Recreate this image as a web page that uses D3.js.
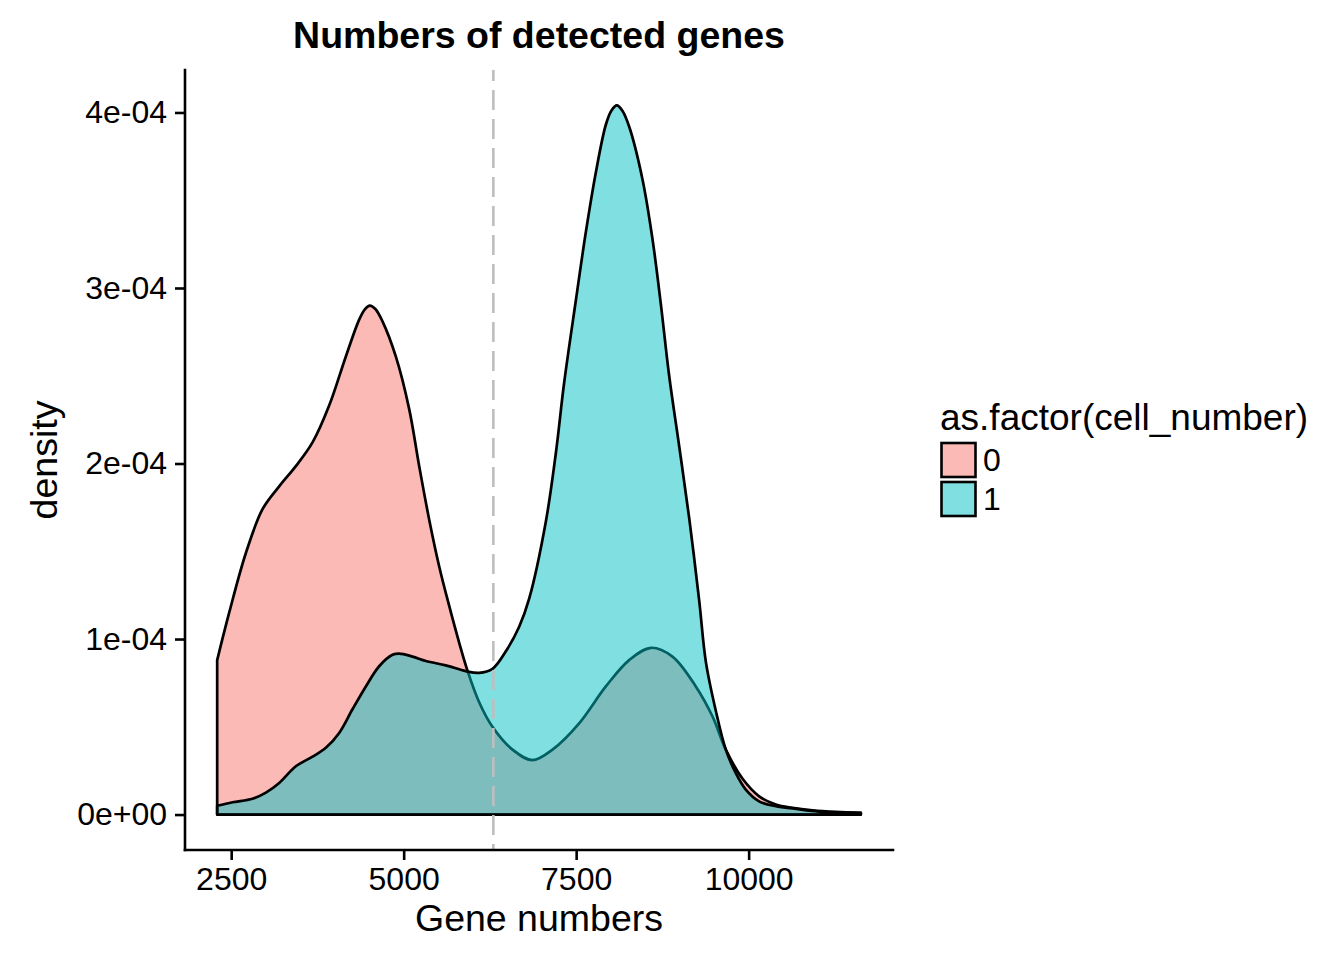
<!DOCTYPE html>
<meta charset="utf-8">
<title>Numbers of detected genes</title>
<style>
  body { margin: 0; background: #fff; }
  text { font-family: "Liberation Sans", Arial, Helvetica, sans-serif; fill: #000; }
</style>
<body>
<div id="chart"></div>
<script src="https://d3js.org/d3.v7.min.js"></script>
<script>

////* data *////
const groups = ["0", "1"];
const groupColors = ["#F8766D", "#00BFC4"];

// cell_number == 0
const genes0 = [2297, 2471, 2713, 2954, 3196, 3437, 3679, 3920, 4162, 4355, 4440, 4510, 4590, 4693, 4886, 5080,
                5225, 5370, 5514, 5659, 5804, 5925, 6094, 6287, 6577, 6867, 7157, 7543, 7930, 8268,
                8582, 8896, 9234, 9475, 9669, 9910, 10152, 10394, 10635, 10925, 11264, 11626];
const dens0 = [0.88e-4, 1.15e-4, 1.49e-4, 1.74e-4, 1.87e-4, 1.985e-4, 2.12e-4, 2.33e-4, 2.61e-4, 2.82e-4,
               2.88e-4, 2.90e-4, 2.88e-4, 2.81e-4, 2.61e-4, 2.31e-4, 1.985e-4, 1.68e-4, 1.415e-4, 1.19e-4, 0.98e-4, 0.82e-4,
               0.64e-4, 0.50e-4, 0.37e-4, 0.31e-4, 0.37e-4, 0.52e-4, 0.73e-4, 0.88e-4, 0.95e-4, 0.90e-4,
               0.73e-4, 0.56e-4, 0.37e-4, 0.205e-4, 0.104e-4, 0.057e-4, 0.038e-4, 0.024e-4, 0.015e-4, 0.010e-4];

// cell_number == 1
const genes1 = [2297, 2519, 2809, 3003, 3196, 3437, 3679, 3872, 4065, 4258, 4452, 4645, 4838, 4935,
                5128, 5322, 5611, 5901, 6094, 6287, 6481, 6674, 6819, 7061, 7206, 7326, 7496, 7641,
                7786, 7930, 8010, 8090, 8170, 8268, 8461, 8606, 8727, 8848, 8993, 9138, 9283, 9380, 9525, 9669,
                9814, 9959, 10152, 10394, 10684, 11022, 11626];
const dens1 = [0.05e-4, 0.07e-4, 0.09e-4, 0.125e-4, 0.18e-4, 0.275e-4, 0.33e-4, 0.38e-4, 0.465e-4, 0.60e-4,
               0.73e-4, 0.845e-4, 0.91e-4, 0.917e-4, 0.90e-4, 0.875e-4, 0.85e-4, 0.817e-4, 0.807e-4, 0.83e-4,
               0.93e-4, 1.07e-4, 1.23e-4, 1.67e-4, 2.06e-4, 2.46e-4, 2.93e-4, 3.32e-4, 3.66e-4, 3.93e-4,
               4.01e-4, 4.04e-4, 4.01e-4, 3.92e-4, 3.62e-4, 3.28e-4, 2.91e-4, 2.50e-4, 2.10e-4, 1.69e-4, 1.22e-4, 0.87e-4,
               0.59e-4, 0.37e-4, 0.236e-4, 0.142e-4, 0.075e-4, 0.047e-4, 0.032e-4, 0.017e-4, 0.010e-4];

const cutoff = 6300;   // dashed vertical line

const xTicks = [2500, 5000, 7500, 10000];
const yTicks = [0, 1e-4, 2e-4, 3e-4, 4e-4];
const yTickLabels = ["0e+00", "1e-04", "2e-04", "3e-04", "4e-04"];

////* layout *////
const W = 1344, H = 960;
const panel = { left: 185, right: 893, top: 70, bottom: 850 };

const series = [
  genes0.map((g, i) => ({ x: g, y: dens0[i] })),
  genes1.map((g, i) => ({ x: g, y: dens1[i] }))
];

// ggplot style 5% expansion of the data range
const allX = genes0.concat(genes1);
const xMin = d3.min(allX), xMax = d3.max(allX);
const yMax = d3.max(dens0.concat(dens1));
const xPad = (xMax - xMin) * 0.05, yPad = yMax * 0.05;

const xScale = d3.scaleLinear()
  .domain([xMin - xPad, xMax + xPad])
  .range([panel.left, panel.right]);

const yScale = d3.scaleLinear()
  .domain([-yPad, yMax + yPad])
  .range([panel.bottom, panel.top]);

const svg = d3.select("#chart").append("svg")
  .attr("width", W)
  .attr("height", H)
  .style("background", "#fff");

////* densities *////
const area = d3.area()
  .curve(d3.curveCatmullRom.alpha(0.5))
  .x(d => xScale(d.x))
  .y0(yScale(0))
  .y1(d => yScale(Math.max(0, d.y)));

svg.append("g")
  .selectAll("path.density")
  .data(series)
  .join("path")
  .attr("class", "density")
  .attr("d", area)
  .attr("fill", (d, i) => groupColors[i])
  .attr("fill-opacity", 0.5)
  .attr("stroke", "#000")
  .attr("stroke-width", 2.7)
  .attr("stroke-linejoin", "round");

// cut-off line
svg.append("line")
  .attr("x1", xScale(cutoff)).attr("x2", xScale(cutoff))
  .attr("y1", panel.top).attr("y2", panel.bottom)
  .attr("stroke", "#BEBEBE")
  .attr("stroke-width", 2.6)
  .attr("stroke-dasharray", "20,9")
  .attr("stroke-dashoffset", 9);

////* axes *////
const xAxis = d3.axisBottom(xScale).tickValues(xTicks).tickSize(10).tickPadding(7).tickFormat(d3.format("d"));
const yAxis = d3.axisLeft(yScale).tickValues(yTicks).tickSize(10).tickPadding(8)
  .tickFormat((d, i) => yTickLabels[i]);

function styleAxis(g) {
  g.select(".domain").remove();
  g.selectAll(".tick line").attr("stroke", "#000").attr("stroke-width", 2.6);
  g.selectAll(".tick text")
    .style("font-family", "'Liberation Sans', Arial, sans-serif")
    .style("font-size", "32px")
    .attr("fill", "#000");
}

svg.append("g")
  .attr("transform", `translate(0,${panel.bottom})`)
  .call(xAxis)
  .call(styleAxis)
  .selectAll(".tick text").attr("dy", "0.72em");

svg.append("g")
  .attr("transform", `translate(${panel.left},0)`)
  .call(yAxis)
  .call(styleAxis);

// axis lines
svg.append("line")
  .attr("x1", panel.left).attr("x2", panel.right)
  .attr("y1", panel.bottom).attr("y2", panel.bottom)
  .attr("stroke", "#000").attr("stroke-width", 2.6).attr("stroke-linecap", "square");
svg.append("line")
  .attr("x1", panel.left).attr("x2", panel.left)
  .attr("y1", panel.top).attr("y2", panel.bottom)
  .attr("stroke", "#000").attr("stroke-width", 2.6).attr("stroke-linecap", "square");

////* titles *////
const midX = (panel.left + panel.right) / 2;

svg.append("text")
  .attr("x", midX).attr("y", 48)
  .attr("text-anchor", "middle")
  .style("font-size", "37.5px")
  .style("font-weight", "bold")
  .text("Numbers of detected genes");

svg.append("text")
  .attr("x", midX).attr("y", 931)
  .attr("text-anchor", "middle")
  .style("font-size", "37.5px")
  .text("Gene numbers");

svg.append("text")
  .attr("transform", `translate(57,${(panel.top + panel.bottom) / 2}) rotate(-90)`)
  .attr("text-anchor", "middle")
  .style("font-size", "37.5px")
  .text("density");

////* legend *////
const legend = svg.append("g").attr("transform", "translate(940,0)");

legend.append("text")
  .attr("x", 0).attr("y", 430)
  .style("font-size", "37px")
  .text("as.factor(cell_number)");

const keys = legend.selectAll("g.key")
  .data(groups)
  .join("g")
  .attr("class", "key")
  .attr("transform", (d, i) => `translate(0,${443 + i * 39})`);

keys.append("rect")
  .attr("x", 1.5).attr("y", 0)
  .attr("width", 34).attr("height", 34)
  .attr("fill", (d, i) => groupColors[i])
  .attr("fill-opacity", 0.5)
  .attr("stroke", "#000")
  .attr("stroke-width", 2.6);

keys.append("text")
  .attr("x", 43).attr("y", 17 + 11)
  .style("font-size", "32px")
  .text(d => d);

</script>
</body>
</html>
